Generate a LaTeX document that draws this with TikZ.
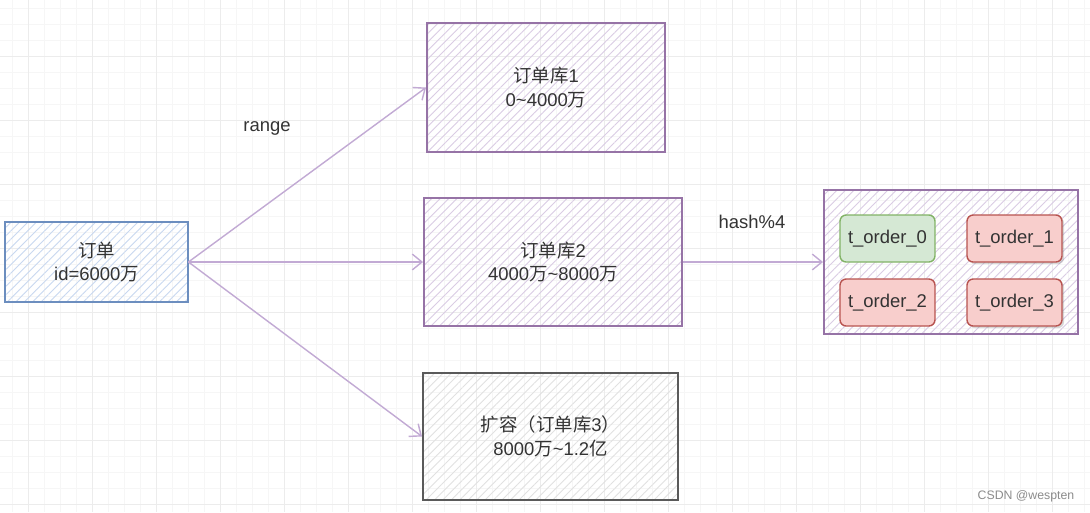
\documentclass[tikz,border=0pt]{standalone}
\usepackage{fontspec}
\setmainfont{Liberation Sans}
\newfontfamily\cjk{Noto Sans CJK SC}
\usepackage{tikz}
\usetikzlibrary{arrows.meta, patterns.meta, shadows}
\definecolor{ordbleu}{RGB}{108,142,191}
\definecolor{ordbleuhach}{RGB}{200,216,240}
\definecolor{dbviolet}{RGB}{150,115,166}
\definecolor{dbviolethach}{RGB}{218,204,228}
\definecolor{flecheviolet}{RGB}{194,170,212}
\definecolor{xpgris}{RGB}{90,90,90}
\definecolor{xpgrishach}{RGB}{225,225,225}
\definecolor{tvert}{RGB}{213,232,212}
\definecolor{tvertbord}{RGB}{130,179,102}
\definecolor{trouge}{RGB}{248,206,204}
\definecolor{trougebord}{RGB}{184,84,80}
\definecolor{textegris}{RGB}{51,51,51}
\definecolor{grillefine}{RGB}{246,246,246}
\definecolor{grillemaj}{RGB}{236,236,236}

\begin{document}
\begin{tikzpicture}[x=0.02cm, y=-0.02cm,
    txt/.style={font=\fontsize{10.5}{13.5}\selectfont, text=textegris, align=center},
    hachure/.style={pattern={Lines[angle=45,distance=3.4pt,line width=0.5pt]}, pattern color=#1},
    boite/.style={txt, rectangle, line width=1.1pt, inner sep=0pt},
    ordbox/.style={boite, draw=ordbleu, hachure=ordbleuhach},
    dbbox/.style={boite, draw=dbviolet, hachure=dbviolethach},
    xpbox/.style={boite, draw=xpgris, hachure=xpgrishach},
    tablebox/.style={txt, rectangle, rounded corners=3.5pt, line width=0.8pt,
        minimum width=1.9cm, minimum height=0.94cm},
    tvertbox/.style={tablebox, fill=tvert, draw=tvertbord},
    trougebox/.style={tablebox, fill=trouge, draw=trougebord},
    ombre/.style={drop shadow={shadow xshift=1.2pt, shadow yshift=-1.2pt, opacity=0.3}},
    fleche/.style={draw=flecheviolet, line width=0.8pt, -{Straight Barb[length=5.5pt,width=9pt]}},
    etiquette/.style={txt}]
  \useasboundingbox (0,0) rectangle (1090,512);
  \fill[white] (0,0) rectangle (1090,512);
  % grille de fond
  \foreach \x in {12,28,...,1090} \draw[grillefine, line width=0.5pt] (\x,0) -- (\x,512);
  \foreach \y in {8,24,...,512} \draw[grillefine, line width=0.5pt] (0,\y) -- (1090,\y);
  \foreach \x in {28,92,...,1090} \draw[grillemaj, line width=0.5pt] (\x,0) -- (\x,512);
  \foreach \y in {56,120,...,512} \draw[grillemaj, line width=0.5pt] (0,\y) -- (1090,\y);

  \node[ordbox, minimum width=3.66cm, minimum height=1.6cm] (order) at (96.5,262)
    {{\cjk 订单}\\id=6000{\cjk 万}};
  \node[dbbox, minimum width=4.76cm, minimum height=2.58cm] (db1) at (546,87.5)
    {{\cjk 订单库}1\\0\textasciitilde 4000{\cjk 万}};
  \node[dbbox, minimum width=5.16cm, minimum height=2.56cm] (db2) at (553,262)
    {{\cjk 订单库}2\\4000{\cjk 万}\textasciitilde 8000{\cjk 万}};
  \node[xpbox, minimum width=5.1cm, minimum height=2.54cm] (db3) at (550.5,436.5)
    {{\cjk 扩容（订单库}3{\cjk ）}\\8000{\cjk 万}\textasciitilde 1.2{\cjk 亿}};
  \node[dbbox, minimum width=5.08cm, minimum height=2.88cm] (shards) at (951,262) {};

  \node[tvertbox] (t0) at (887.5,238.5) {t\_order\_0};
  \node[trougebox, ombre] (t1) at (1014.5,238.5) {t\_order\_1};
  \node[trougebox] (t2) at (887.5,302.5) {t\_order\_2};
  \node[trougebox, ombre] (t3) at (1014.5,302.5) {t\_order\_3};

  \draw[fleche] (order.east) -- (db1.west);
  \draw[fleche] (order.east) -- (db2.west);
  \draw[fleche] (order.east) -- (db3.west);
  \draw[fleche] (db2.east) -- (shards.west);

  \node[etiquette] (lblrange) at (267,128) {range};
  \node[etiquette] (lblhash) at (752,222) {hash\%4};

  \node[font=\fontsize{7}{8}\selectfont, text=black!45] (filigrane) at (1026,496) {CSDN @wespten};
\end{tikzpicture}
\end{document}
